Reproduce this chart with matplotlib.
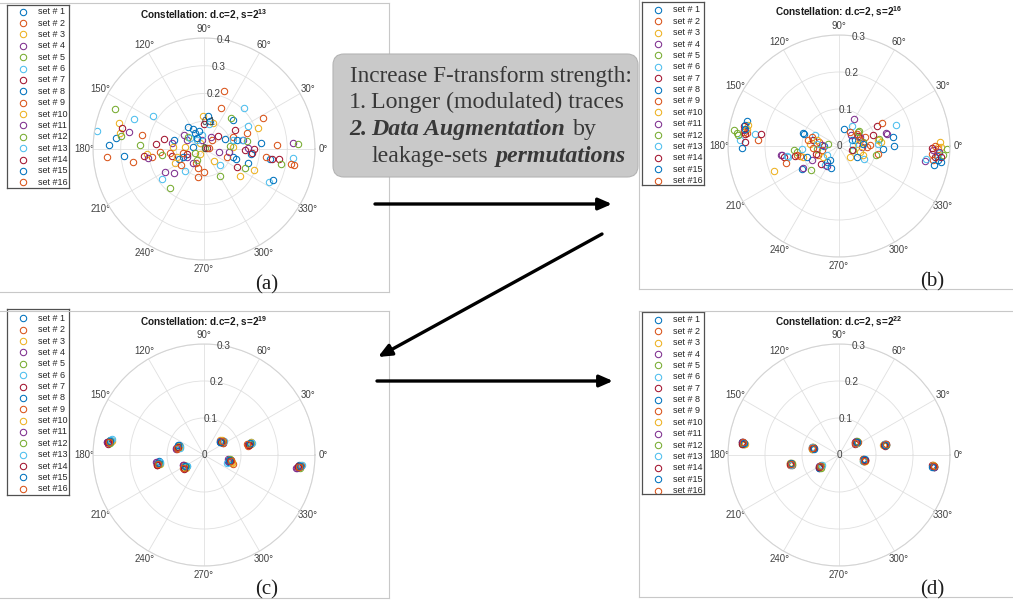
import numpy as np
import matplotlib
matplotlib.use("Agg")
import matplotlib.pyplot as plt
from matplotlib.patches import FancyBboxPatch, FancyArrowPatch
from matplotlib.lines import Line2D
from matplotlib.transforms import IdentityTransform

plt.rcParams['font.family'] = 'Liberation Sans'
plt.rcParams['mathtext.fontset'] = 'custom'
plt.rcParams['mathtext.rm'] = 'Liberation Sans'
plt.rcParams['mathtext.bf'] = 'Liberation Sans:bold'

# constellation points, real / imaginary parts in units of 1e-3, one row per leakage set
A_RE = [
    [-317, -107, -38, -38, 103, 160, 238, 106],
    [-348, -158, -29, 28, 72, 222, 325, 154],
    [-305, -104, -2, 37, 181, -302, -14, -14],
    [-269, -142, -116, -60, -8, 55, 139, 319],
    [-320, -230, -122, -32, 58, 97, 154, 337],
    [-386, -182, -68, -8, 58, 145, 235, -26],
    [-296, -173, -114, 0, 52, 148, 181, 271],
    [-341, -89, -19, 16, 114, 168, 247, 22],
    [-257, -83, -23, 0, 103, 262, -188, 82],
    [-206, -68, 34, 130, 193, -98, -110, 106],
    [-203, -108, -72, -41, 25, 90, 160, -62],
    [-300, -150, -56, 2, 94, 148, 277, -26],
    [-254, -151, -50, 19, 136, 160, 322, 106],
    [-218, -143, -62, 10, 120, 172, 244, 113],
    [-290, -56, -32, 76, 120, 204, -26, -77],
    [-224, -77, 19, 60, 211, 312, -20, -122],
]
A_IM = [
    [38, 32, 71, 8, 104, -52, -36, -28],
    [-30, -10, -52, 32, 209, -30, -59, 56],
    [95, -52, 119, -42, -76, 56, 20, -18],
    [62, -83, 20, -28, 32, -10, 32, 23],
    [144, 13, -139, -13, -97, 110, 29, 18],
    [66, 119, -78, 52, -58, 146, -118, 32],
    [74, 17, -25, 90, 48, -4, 0, -36],
    [14, -37, 65, 119, -36, -18, -112, 102],
    [-46, -58, -100, -82, 44, 13, -28, -28],
    [-18, 8, 95, -97, 74, -28, 8, 8],
    [-34, -86, 50, -52, 44, -10, 2, 32],
    [47, -23, 44, 2, 11, -70, -55, -40],
    [108, -109, 38, 90, 32, 84, -34, 32],
    [-25, 37, -19, 2, -64, -16, -35, 68],
    [-24, 80, 56, 36, 32, 20, 38, -28],
    [50, -16, 2, 146, 110, -54, -70, -16],
]

B_RE = [
    [-249, -99, -40, 13, 118, 264, -24, 268],
    [-248, -105, -56, 70, 106, 255, -47, 268],
    [-245, -78, 113, 30, 268, -96, 106, 277],
    [-157, -74, 41, 61, 131, -256, -155, 57],
    [-284, -121, -29, 55, 100, -276, 66, -60],
    [-267, -137, -65, -38, 34, 68, 153, 271],
    [-258, -254, -149, -69, -50, 50, 103, 259],
    [-254, -96, -33, 34, 147, 257, 43, -87],
    [-218, -74, -54, 84, 75, -258, 57, 250],
    [-176, 66, 57, 273, -249, -42, 52, -60],
    [-96, -32, 32, 127, 232, 271, -47, 255],
    [-272, -76, 52, 109, 293, -114, 282, 39],
    [-227, -101, -32, -60, 39, 106, 235, -141],
    [-254, -212, -119, -62, 34, 93, 250, 277],
    [-262, -94, -21, 48, 149, 275, -254, 66],
    [-144, -69, 30, 115, 259, -83, 48, -114],
]
B_IM = [
    [68, -63, -1, 47, -9, -27, -39, -39],
    [35, -28, -25, 23, -21, -37, -12, -7],
    [56, 5, 11, -30, -3, -30, 15, -3],
    [-23, -39, 72, -3, 33, 42, -25, 24],
    [42, -12, 6, 41, -23, 35, 11, -7],
    [17, -30, 31, -52, 54, -34, 58, -19],
    [53, 11, -30, 17, -48, 26, 53, -30],
    [56, 35, -43, 15, 24, -50, 15, -30],
    [17, 23, 11, 2, -3, 38, 15, -21],
    [-68, -25, -16, 11, 47, -30, 6, 15],
    [-59, -54, 29, 35, -41, -16, 2, -12],
    [29, -64, 38, 20, -8, -16, -25, -12],
    [33, -7, -23, 6, 2, 5, -34, -28],
    [33, 33, -28, -21, -12, 29, -5, -30],
    [-5, 32, -60, -30, 0, -43, 47, 6],
    [-46, -5, 38, 62, 0, 15, 33, -25],
]

C_RE = [
    [-253, -69, 45, 125, -122, -50, 68, 260],
    [-258, -72, 49, 121, -126, -54, 71, 255],
    [-250, -66, 44, 126, -120, -48, 75, 262],
    [-262, -75, 50, 118, -128, -57, 66, 248],
    [-256, -71, 47, 124, -123, -51, 70, 259],
    [-249, -65, 52, 127, -119, -47, 64, 263],
    [-259, -73, 46, 120, -125, -55, 72, 253],
    [-254, -68, 43, 122, -121, -52, 67, 257],
    [-257, -74, 51, 119, -127, -53, 78, 261],
    [-251, -67, 48, 128, -124, -49, 76, 256],
    [-261, -76, 44, 123, -129, -58, 65, 250],
    [-255, -70, 49, 125, -122, -50, 69, 258],
    [-252, -64, 53, 129, -118, -46, 63, 264],
    [-260, -71, 46, 121, -126, -54, 70, 254],
    [-254, -69, 42, 124, -123, -51, 67, 259],
    [-258, -72, 50, 117, -125, -56, 74, 257],
]
C_IM = [
    [40, 24, 38, 33, -20, -29, -13, -30],
    [33, 18, 35, 27, -26, -34, -17, -33],
    [37, 22, 41, 31, -24, -32, -22, -28],
    [35, 17, 33, 29, -18, -26, -12, -35],
    [38, 20, 37, 32, -22, -33, -16, -34],
    [42, 25, 39, 34, -21, -30, -19, -29],
    [31, 19, 34, 28, -25, -36, -14, -32],
    [36, 26, 36, 30, -16, -31, -20, -27],
    [34, 16, 32, 25, -27, -28, -24, -30],
    [39, 23, 40, 35, -23, -35, -18, -31],
    [36, 20, 37, 30, -20, -27, -15, -36],
    [33, 22, 35, 29, -24, -33, -11, -32],
    [41, 19, 38, 33, -19, -30, -21, -28],
    [35, 21, 34, 27, -26, -37, -16, -31],
    [37, 27, 36, 32, -21, -29, -13, -30],
    [34, 18, 39, 31, -23, -34, -17, -33],
]

D_RE = [
    [-259, -71, 46, 124, -130, -51, 68, 255],
    [-262, -73, 44, 127, -133, -53, 66, 258],
    [-256, -69, 48, 122, -128, -49, 70, 253],
    [-260, -74, 47, 126, -131, -54, 69, 256],
    [-263, -70, 49, 123, -132, -50, 65, 257],
    [-257, -72, 45, 121, -127, -48, 71, 254],
    [-258, -68, 43, 125, -129, -52, 67, 252],
    [-261, -71, 46, 127, -130, -55, 68, 257],
    [-259, -74, 50, 124, -127, -51, 64, 255],
    [-255, -72, 47, 120, -133, -49, 70, 253],
    [-262, -69, 44, 124, -131, -53, 69, 256],
    [-260, -70, 48, 128, -128, -50, 67, 258],
    [-257, -73, 46, 123, -130, -47, 66, 254],
    [-261, -71, 45, 122, -132, -54, 71, 255],
    [-258, -68, 48, 125, -129, -51, 68, 252],
    [-260, -72, 44, 126, -131, -52, 67, 257],
]
D_IM = [
    [32, 19, 34, 28, -24, -31, -14, -30],
    [35, 17, 36, 26, -27, -33, -12, -32],
    [30, 21, 32, 31, -22, -28, -16, -28],
    [34, 18, 37, 29, -25, -34, -13, -33],
    [29, 22, 33, 27, -21, -30, -17, -29],
    [33, 16, 35, 30, -26, -32, -11, -31],
    [31, 20, 31, 25, -23, -29, -15, -27],
    [35, 19, 36, 28, -24, -35, -14, -32],
    [32, 21, 34, 31, -27, -30, -12, -30],
    [29, 17, 32, 26, -22, -33, -16, -28],
    [34, 20, 35, 29, -25, -31, -13, -33],
    [31, 18, 37, 27, -23, -34, -15, -29],
    [33, 22, 33, 30, -26, -28, -17, -31],
    [30, 19, 34, 28, -24, -32, -14, -30],
    [32, 16, 36, 26, -21, -31, -12, -32],
    [34, 20, 32, 29, -25, -29, -16, -29],
]

SET_LABELS = [f"set #{i:2d}" for i in range(1, 17)]
EXPONENTS = [13, 16, 19, 22]
PANEL_TAGS = ["(a)", "(b)", "(c)", "(d)"]
RMAX = [0.4, 0.3, 0.3, 0.3]
RTICKS = [[0.1, 0.2, 0.3, 0.4], [0.1, 0.2, 0.3], [0.1, 0.2, 0.3], [0.1, 0.2, 0.3]]
RTICK_LABELS = [["0", "0.1", "0.2", "0.3", "0.4"], ["0", "0.1", "0.2", "0.3"],
                ["0", "0.1", "0.2", "0.3"], ["0", "0.1", "0.2", "0.3"]]
THETA_TICKS = [0, 30, 60, 90, 120, 150, 180, 210, 240, 270, 300, 330]

CALLOUT_HEAD = "Increase F-transform strength:"
CALLOUT_NUMS = [("1.", "normal", "normal"), ("2.", "italic", "bold")]
CALLOUT_BODY = [
    [("Longer (modulated) traces", "normal", "normal")],
    [("Data Augmentation", "italic", "bold"), ("by", "normal", "normal")],
    [("leakage-sets", "normal", "normal"), ("permutations", "italic", "bold")],
]

COLORS = ['#0072BD', '#D95319', '#EDB120', '#7E2F8E', '#77AC30', '#4DBEEE', '#A2142F']

W, H = 1013, 603
fig = plt.figure(figsize=(W / 100, H / 100), dpi=100)
fig.patch.set_facecolor('white')
ident = IdentityTransform()
R = 111  # polar radius in pixels

# panel geometry: centre, title row, legend box (x0, y0, x1, y1), first legend row, tag position
panels = [
    dict(c=(204, 149), ty=15, leg=(7, 5, 69, 188), row0=11.7, tag=(267, 285)),
    dict(c=(839, 146), ty=12, leg=(642, 2, 704, 185), row0=10.0, tag=(932, 282)),
    dict(c=(204, 455), ty=322, leg=(7, 309, 69, 495), row0=318.3, tag=(267, 590)),
    dict(c=(839, 455), ty=322, leg=(642, 312, 704, 494), row0=320.0, tag=(932, 590)),
]
data = [(A_RE, A_IM), (B_RE, B_IM), (C_RE, C_IM), (D_RE, D_IM)]

# grey frames around the four sub-figures
frame_segments = [
    ((0, 3), (389, 3)), ((389, 3), (389, 292)), ((0, 292), (389, 292)),
    ((639, 0), (639, 289)), ((639, 289), (1013, 289)),
    ((0, 311), (389, 311)), ((389, 311), (389, 598)), ((0, 598), (389, 598)),
    ((639, 311), (639, 597)), ((639, 311), (1013, 311)), ((639, 597), (1013, 597)),
]
for (x0, y0), (x1, y1) in frame_segments:
    fig.add_artist(Line2D([x0, x1], [H - y0, H - y1], transform=ident,
                          color='#c8c8c8', lw=0.8))

for k, p in enumerate(panels):
    cx, cy = p['c']
    ax = fig.add_axes([(cx - R) / W, (H - cy - R) / H, 2 * R / W, 2 * R / H],
                      projection='polar')
    re, im = data[k]
    for j in range(16):
        z = (np.array(re[j]) + 1j * np.array(im[j])) / 1000.0
        ax.plot(np.angle(z), np.abs(z), ls='none', marker='o', ms=4.6,
                mfc='none', mec=COLORS[j % 7], mew=0.75)
    ax.set_ylim(0, RMAX[k])
    ax.set_yticks(RTICKS[k])
    ax.set_yticklabels([])
    ax.set_xticks(np.deg2rad(THETA_TICKS))
    ax.set_xticklabels([f"{t}\u00b0" for t in THETA_TICKS])
    ax.tick_params(axis='x', labelsize=6.9, labelcolor='#404040', pad=-4.3)
    ax.grid(color='#e0e0e0', lw=0.6)
    ax.spines['polar'].set_color('#d4d4d4')
    ax.spines['polar'].set_linewidth(0.8)
    for r, lab in zip([0] + RTICKS[k], RTICK_LABELS[k]):
        ax.text(np.deg2rad(80), r, lab, ha='center', va='center',
                fontsize=7.2, color='#404040')

    fig.text(cx, H - p['ty'], rf"Constellation: d.c=2, s=2$^{{\mathbf{{{EXPONENTS[k]}}}}}$",
             transform=ident, ha='center', va='center', fontsize=7.2,
             weight='bold', color='#1a1a1a')

    # legend box
    x0, y0, x1, y1 = p['leg']
    lax = fig.add_axes([x0 / W, 1 - y1 / H, (x1 - x0) / W, (y1 - y0) / H])
    lax.set_xlim(x0, x1)
    lax.set_ylim(y1, y0)
    lax.set_xticks([])
    lax.set_yticks([])
    for s in lax.spines.values():
        s.set_color('#505050')
        s.set_linewidth(0.9)
    pitch = 11.37
    for j in range(16):
        yy = p['row0'] + j * pitch
        lax.plot([x0 + 15.7], [yy], ls='none', marker='o', ms=4.6, mfc='none',
                 mec=COLORS[j % 7], mew=0.75)
        lax.text(x0 + 31, yy, SET_LABELS[j], ha='left', va='center',
                 fontsize=6.5, color='#262626')

    tx, ty = p['tag']
    fig.text(tx, H - ty, PANEL_TAGS[k], transform=ident, ha='center', va='center',
             family='Liberation Serif', fontsize=15, color='#1e1e1e')

# arrows between the panels
arrows = [((375, 204), (612, 204)), ((602, 234), (378, 357)), ((377, 381), (613, 381))]
for (x0, y0), (x1, y1) in arrows:
    fig.add_artist(FancyArrowPatch((x0, H - y0), (x1, H - y1), transform=ident,
                                   arrowstyle='-|>,head_length=0.8,head_width=0.35',
                                   mutation_scale=10, lw=2.4, color='black',
                                   shrinkA=0, shrinkB=0, zorder=6))

# callout box
fig.add_artist(FancyBboxPatch((333, H - 177), 305, 123,
                              boxstyle="round,pad=0,rounding_size=11", transform=ident,
                              fc='#c9c9c9', ec='#b4b4b4', lw=0.8, zorder=5))

rend = fig.canvas.get_renderer()
serif = 'Liberation Serif'


def text_width(s, size, style='normal', weight='normal'):
    t = fig.text(0, 0, s, fontsize=size, family=serif, style=style, weight=weight)
    w = t.get_window_extent(rend).width
    t.remove()
    return w


def put(x, yb, txt, size, style, weight):
    t = fig.text(x, H - yb, txt, transform=ident, fontsize=size, family=serif,
                 style=style, weight=weight, color='#383838',
                 va='baseline', ha='left', zorder=7)
    return t.get_window_extent(rend).x1


fs_head = 16 * 281 / text_width(CALLOUT_HEAD, 16)
fs_body = 16 * 253 / text_width(CALLOUT_BODY[0][0][0], 16)
space = text_width("a a", fs_body) - text_width("aa", fs_body)

put(350, 81.7, CALLOUT_HEAD, fs_head, 'normal', 'normal')
baselines = [108.3, 135.0, 161.7]
for i, yb in enumerate(baselines):
    if i < len(CALLOUT_NUMS):
        txt, style, weight = CALLOUT_NUMS[i]
        put(349, yb, txt, fs_body, style, weight)
    x = 371
    for txt, style, weight in CALLOUT_BODY[i]:
        x = put(x, yb, txt, fs_body, style, weight) + space * 1.4

fig.savefig('out.png', dpi=100, facecolor='white')
